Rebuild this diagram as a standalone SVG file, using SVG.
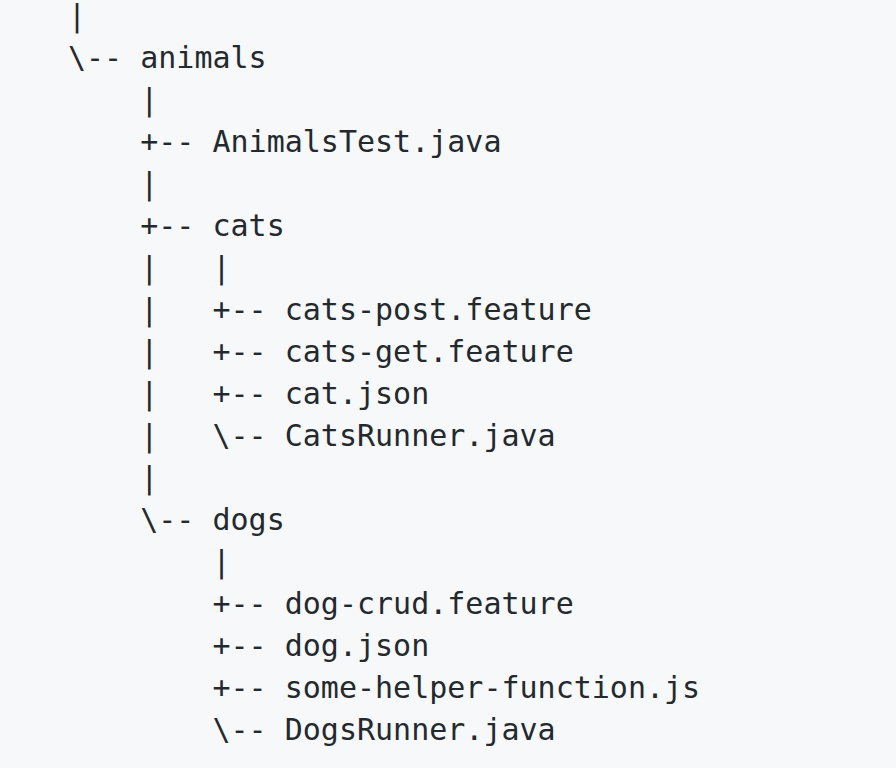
<svg xmlns="http://www.w3.org/2000/svg" width="896" height="768" viewBox="0 0 896 768">
<style>
text{font-family:"DejaVu Sans Mono","Liberation Mono",monospace;font-size:30px;fill:#24292e;white-space:pre}
</style>
<rect width="896" height="768" fill="#f6f8fa"/>
<g id="tree" xml:space="preserve">
<text x="68" y="26">|</text>
<text x="68" y="68">\-- animals</text>
<text x="68" y="110">    |</text>
<text x="68" y="152">    +-- AnimalsTest.java</text>
<text x="68" y="194">    |</text>
<text x="68" y="236">    +-- cats</text>
<text x="68" y="278">    |   |</text>
<text x="68" y="320">    |   +-- cats-post.feature</text>
<text x="68" y="362">    |   +-- cats-get.feature</text>
<text x="68" y="404">    |   +-- cat.json</text>
<text x="68" y="446">    |   \-- CatsRunner.java</text>
<text x="68" y="488">    |</text>
<text x="68" y="530">    \-- dogs</text>
<text x="68" y="572">        |</text>
<text x="68" y="614">        +-- dog-crud.feature</text>
<text x="68" y="656">        +-- dog.json</text>
<text x="68" y="698">        +-- some-helper-function.js</text>
<text x="68" y="740">        \-- DogsRunner.java</text>
</g>
</svg>
